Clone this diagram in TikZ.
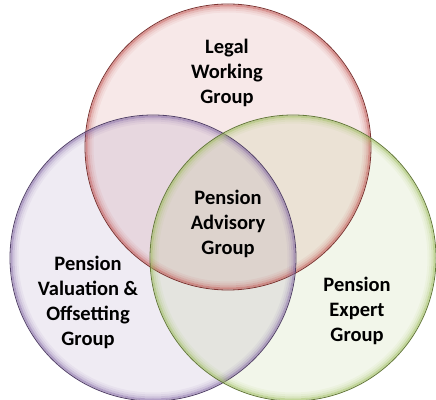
\documentclass[tikz,border=0pt]{standalone}
\usepackage{fontspec}
\setmainfont{Carlito}
\usepackage{tikz}
\usetikzlibrary{positioning}
\definecolor{myred}{RGB}{192,80,77}
\definecolor{mypurple}{RGB}{128,100,162}
\definecolor{mygreen}{RGB}{155,187,89}
\tikzstyle{venn}=[circle,minimum size=286pt,inner sep=0pt,fill opacity=0.13]
\tikzstyle{grouptext}=[align=center,font=\bfseries\fontsize{20.5}{25}\selectfont,text=black]
\begin{document}
\begin{tikzpicture}[x=1pt,y=1pt]
\useasboundingbox (0,0) rectangle (436,399);
% the three groups
\node [venn, fill=myred] (legal) at (228,252) {};
\node [venn, fill=mypurple] (valuation) at (153,141) {};
\node [venn, fill=mygreen] (expert) at (293,141) {};
% soft rims
\foreach \c/\col in {legal/myred,valuation/mypurple,expert/mygreen}{
  \foreach \d/\o in {1.5/0.55,3.5/0.3,5.5/0.16,7.5/0.07}
    \draw [\col, line width=2pt, opacity=\o] (\c.center) circle (143-\d);
  \draw [\col!65!black, line width=0.8pt] (\c.center) circle (143);
}
\node [grouptext] (legaltext) at (227,326) {Legal\\Working\\Group};
\node [grouptext] (advisory) at (228,175) {Pension\\Advisory\\Group};
\node [grouptext] (valuationtext) at (88,97) {Pension\\Valuation \&\\Offsetting\\Group};
\node [grouptext] (experttext) at (357,88) {Pension\\Expert\\Group};
\end{tikzpicture}
\end{document}
